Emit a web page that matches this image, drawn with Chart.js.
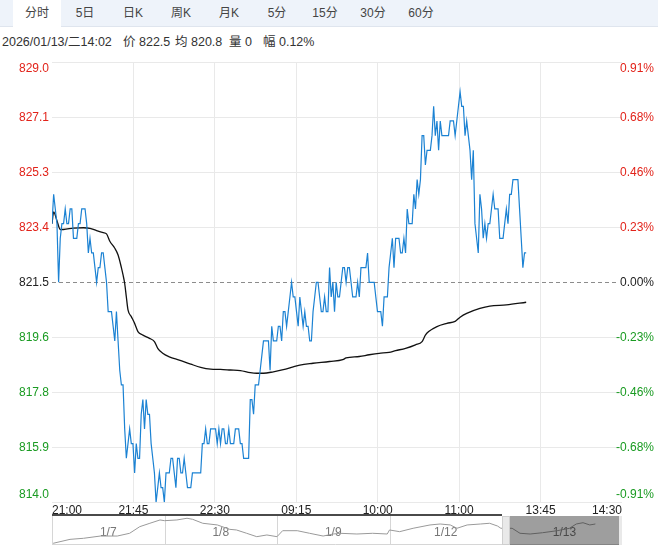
<!DOCTYPE html>
<html>
<head>
<meta charset="utf-8">
<script src="https://cdn.jsdelivr.net/npm/chart.js@4.4.1/dist/chart.umd.min.js"></script>
<style>
  body { margin: 0; width: 658px; height: 546px; background: #fff; overflow: hidden;
         font-family: Arial, "Liberation Sans", "Noto Sans CJK SC", sans-serif; color: #333; }
  #tabs { position: absolute; left: 0; top: 0; width: 658px; height: 26px; background: #eef3fa; border-bottom: 1px solid #dfe5ee; }
  .tab { position: absolute; top: 0; width: 48px; height: 26px; line-height: 26px; text-align: center; font-size: 12px; color: #444; }
  .tab.on { background: #fff; height: 27px; }
  #info span { position: absolute; top: 34px; font-size: 12.5px; line-height: 16px; white-space: nowrap; color: #333; }
  canvas { position: absolute; left: 0; }
</style>
</head>
<body>
<div id="tabs"></div>
<div id="info"></div>
<canvas id="main" width="658" height="466" style="top:50px"></canvas>
<canvas id="nav" width="658" height="32" style="top:514px"></canvas>
<script>
// ---- header ----
const tabNames = ['分时', '5日', '日K', '周K', '月K', '5分', '15分', '30分', '60分'];
const infoItems = [['2026/01/13/二14:02', 2], ['价 822.5', 123], ['均 820.8', 175], ['量 0', 229], ['幅 0.12%', 263]];

// ---- main chart: one price per minute, split by trading session ----
const BASE = 821.5;          // previous close, dashed line
const STEP = 1.875;
const TOTAL_MIN = 345;       // 21:00-23:00, 9:00-10:15, 10:30-11:30, 13:30-15:00
const xTickLabels = ['21:00', '21:45', '22:30', '09:15', '10:00', '11:00', '13:45', '14:30'];
const leftTickLabels = ['814.0', '815.9', '817.8', '819.6', '821.5', '823.4', '825.3', '827.1', '829.0'];
const rightTickLabels = ['-0.91%', '-0.68%', '-0.46%', '-0.23%', '0.00%', '0.23%', '0.46%', '0.68%', '0.91%'];

const nightPrices = [ // 21:00-22:59
  823.5, 824.5, 824.0, 823.5, 821.5, 823.0, 823.5, 823.5, 824.0, 823.5,
  823.5, 824.0, 824.0, 823.0, 823.0, 823.0, 823.5, 823.5, 824.0, 824.0,
  824.0, 823.5, 822.5, 823.0, 822.5, 822.5, 822.0, 821.5, 822.0, 822.0,
  822.5, 822.5, 822.0, 821.5, 820.5, 820.5, 820.5, 820.0, 819.5, 820.5,
  819.5, 818.5, 818.0, 818.0, 816.5, 815.5, 816.0, 816.5, 816.0, 816.0,
  815.0, 816.0, 815.5, 815.5, 817.0, 817.5, 816.5, 817.5, 817.0, 817.0,
  816.0, 815.5, 815.0, 814.0, 814.5, 815.0, 814.5, 814.5, 814.0, 815.0,
  815.0, 815.0, 815.5, 815.5, 815.0, 814.5, 815.5, 815.5, 815.0, 815.0,
  815.5, 815.0, 814.5, 814.5, 814.5, 815.0, 815.0, 815.0, 815.0, 815.0,
  815.0, 816.0, 816.0, 816.5, 816.0, 816.0, 816.5, 816.5, 816.5, 816.5,
  816.0, 816.5, 816.0, 816.5, 816.5, 816.0, 816.0, 816.5, 816.0, 816.0,
  816.0, 816.5, 816.5, 816.5, 816.0, 816.0, 815.5, 815.5, 815.5, 815.5
];
const morningPrices1 = [ // 9:00-10:14
  817.5, 817.5, 817.0, 818.0, 818.0, 818.0, 818.5, 819.0, 819.5, 819.5,
  819.5, 819.5, 818.5, 820.0, 819.5, 819.5, 819.5, 820.0,
  820.0, 819.5, 820.5, 820.5, 820.0, 820.5, 821.0, 821.5, 821.0, 821.0,
  820.5, 820.0, 821.0, 820.5, 820.0, 820.5, 820.0, 820.0, 819.5, 819.5,
  820.5, 821.0, 821.5, 821.5, 821.0, 820.5, 820.5, 821.0, 820.5, 820.5,
  822.0, 821.0, 821.5, 820.5, 821.5, 821.0, 821.0, 821.5, 822.0, 822.0,
  821.5, 822.0, 822.0, 821.5, 821.0, 821.0, 821.0, 821.5, 821.0, 822.0,
  822.0, 822.0, 822.0, 822.5, 821.5, 821.5, 821.5
];
const morningPrices2 = [ // 10:30-11:29
  821.5, 821.0, 820.5,
  820.5, 820.5, 820.0, 821.0, 821.0, 821.0, 822.0, 822.5, 823.0, 822.0,
  823.0, 823.0,
  823.0, 822.5, 822.5, 823.0, 822.5, 824.0, 823.5, 823.5, 823.5, 824.5,
  824.0, 825.0, 824.5, 825.0, 826.5, 826.5, 825.5, 826.0, 826.0, 826.0,
  826.5, 827.5, 826.5, 827.0, 826.0, 827.0, 826.5, 826.5, 826.5, 826.5,
  826.5,
  827.0, 827.0, 827.0, 826.5, 827.0, 827.5, 828.0, 827.5, 827.5, 826.5,
  827.0, 826.5, 826.0, 825.0
];
const afternoonPrices = [ // 13:30-14:02
  826.0, 823.5, 823.0, 822.5, 824.5, 824.0,
  823.0, 823.5, 823.0, 823.5, 823.5, 824.0, 824.5, 824.0, 824.0, 824.0,
  823.0, 823.0, 823.0, 823.5, 824.0, 823.5, 824.5, 824.5, 825.0, 825.0,
  825.0, 825.0, 824.0, 823.0, 822.0, 822.5, 822.5
];

// average price line (minute index, value)
const avgMinutes = [0, 1, 3, 5, 7, 13, 19, 23, 27, 31, 33, 35, 38, 40, 42, 43, 44, 45, 46, 48, 50, 52, 55, 59, 62, 64, 67, 71, 77, 84,
  90, 96, 102, 108, 114, 120, 124, 128, 134, 140, 146, 150, 158, 168, 176, 178, 186, 192, 198, 204, 208, 214, 220, 224, 226, 228,
  233, 239, 244, 247, 251, 259, 265, 275, 287];
const avgValues = [823.5, 823.9, 823.6, 823.3, 823.3, 823.35, 823.36, 823.34, 823.26, 823.19, 823.15, 822.9, 822.66, 822.43, 822.0,
  821.75, 821.46, 821.0, 820.56, 820.33, 820.1, 819.82, 819.7, 819.59, 819.48, 819.25, 819.08, 818.96, 818.85, 818.71,
  818.6, 818.54, 818.53, 818.51, 818.49, 818.42, 818.4, 818.4, 818.45, 818.52, 818.62, 818.68, 818.74, 818.8, 818.86, 818.92,
  818.97, 819.03, 819.08, 819.11, 819.17, 819.25, 819.37, 819.48, 819.7, 819.82, 819.99, 820.1, 820.17, 820.31, 820.44,
  820.61, 820.69, 820.73, 820.82];

// ---- navigator: five trading days ----
const navDays = ['1/7', '1/8', '1/9', '1/12', '1/13'];
const navTimes = [0.01, 0.16, 0.28, 0.43, 0.58, 0.69, 0.78, 0.87, 0.96, 1.0,
  1.11, 1.20, 1.25, 1.34, 1.47, 1.58, 1.64, 1.73, 1.82, 1.91, 2.0,
  2.05, 2.18, 2.29, 2.41, 2.50, 2.56, 2.71, 2.85, 2.98,
  3.0, 3.09, 3.21, 3.36, 3.45, 3.54, 3.60, 3.69, 3.81, 3.89, 3.96, 3.99,
  4.09, 4.16, 4.25, 4.36, 4.49, 4.60, 4.66, 4.72, 4.78, 4.83];
const navValues = [802.5, 807.4, 808.7, 811.5, 811.5, 814.9, 823.1, 827.3, 831.4, 830.5,
  831.4, 833.5, 832.2, 827.3, 825.2, 819.8, 819.0, 814.9, 810.7, 812.8, 810.7,
  818.1, 818.1, 814.9, 811.5, 814.0, 814.9, 814.0, 814.9, 814.0,
  819.0, 816.9, 821.1, 825.2, 826.4, 825.2, 821.1, 825.2, 826.4, 827.3, 823.9, 821.1,
  821.1, 814.9, 814.0, 815.6, 818.1, 821.1, 826.4, 828.0, 825.2, 826.4];

// header
const tabs = document.getElementById('tabs');
tabNames.forEach((n, i) => {
  const d = document.createElement('div');
  d.className = 'tab' + (i === 0 ? ' on' : '');
  d.style.left = (13 + i * 48) + 'px';
  d.textContent = n;
  tabs.appendChild(d);
});
const info = document.getElementById('info');
infoItems.forEach(([t, x]) => {
  const s = document.createElement('span');
  s.style.left = x + 'px';
  s.textContent = t;
  info.appendChild(s);
});

const FONT = '12px Arial, "Liberation Sans", sans-serif';
const RED = '#e2231a', GREEN = '#1a9b22';

const axisLabels = {
  id: 'axisLabels',
  beforeDatasetsDraw(chart) {
    const { ctx, chartArea: a, scales: { y } } = chart;
    const yy = Math.round(y.getPixelForValue(BASE)) + 0.5;
    ctx.save();
    ctx.strokeStyle = '#8c8c8c';
    ctx.lineWidth = 1;
    ctx.setLineDash([4, 3]);
    ctx.beginPath();
    ctx.moveTo(a.left, yy);
    ctx.lineTo(a.right - 4, yy);
    ctx.stroke();
    ctx.restore();
  },
  afterDraw(chart) {
    const { ctx, chartArea: a, scales: { x, y } } = chart;
    ctx.save();
    ctx.font = FONT;
    ctx.textBaseline = 'middle';
    y.ticks.forEach((t, i) => {
      let py = y.getPixelForValue(t.value);
      if (i === y.ticks.length - 1) py += 6;
      else if (i === 0) py -= 8;
      const diff = t.value - BASE;
      ctx.fillStyle = Math.abs(diff) < 0.01 ? '#222' : (diff > 0 ? RED : GREEN);
      ctx.textAlign = 'right';
      ctx.fillText(leftTickLabels[i], 49, py);
      ctx.fillText(rightTickLabels[i], 654, py);
    });
    ctx.fillStyle = '#222';
    x.ticks.forEach((t, i) => {
      ctx.textAlign = i === 0 ? 'left' : (i === x.ticks.length - 1 ? 'right' : 'center');
      ctx.fillText(xTickLabels[i], x.getPixelForValue(t.value), a.bottom + 8);
    });
    ctx.restore();
  }
};

const prices = [...nightPrices, ...morningPrices1, ...morningPrices2, ...afternoonPrices];

new Chart(document.getElementById('main'), {
  type: 'line',
  data: {
    datasets: [{
      data: prices.map((p, i) => ({ x: i, y: p })),
      borderColor: '#1b82d3',
      borderWidth: 1.2,
      pointRadius: 0,
      tension: 0,
    }, {
      data: avgMinutes.map((m, i) => ({ x: m, y: avgValues[i] })),
      borderColor: '#111',
      borderWidth: 1.3,
      pointRadius: 0,
      cubicInterpolationMode: 'monotone',
    }]
  },
  options: {
    responsive: false,
    animation: false,
    events: [],
    layout: { padding: { left: 52, right: 36, top: 12.3, bottom: 13.7 } },
    plugins: { legend: { display: false }, tooltip: { enabled: false } },
    scales: {
      x: {
        type: 'linear', min: 0, max: TOTAL_MIN,
        afterBuildTicks: s => { s.ticks = xTickLabels.map((_, i) => ({ value: i * TOTAL_MIN / 7 })); },
        afterFit: s => { s.height = 0; },
        ticks: { display: false },
        border: { display: false },
        grid: { drawTicks: false, color: c => (c.index === 0 || c.index === 7) ? 'rgba(0,0,0,0)' : '#e9e9e9' }
      },
      y: {
        min: 814, max: 829,
        afterBuildTicks: s => { s.ticks = leftTickLabels.map((_, i) => ({ value: 814 + i * STEP })); },
        afterFit: s => { s.width = 0; },
        ticks: { display: false },
        border: { display: false },
        grid: { drawTicks: false, color: c => (c.tick && Math.abs(c.tick.value - BASE) < 0.01) ? 'rgba(0,0,0,0)' : '#e9e9e9' }
      }
    }
  },
  plugins: [axisLabels]
});

const navDecor = {
  id: 'navDecor',
  beforeDatasetsDraw(chart) {
    const { ctx, chartArea: a, scales: { x } } = chart;
    ctx.save();
    ctx.strokeStyle = '#d6d6d6';
    ctx.lineWidth = 1;
    ctx.beginPath();
    ctx.moveTo(a.left + 0.5, a.top); ctx.lineTo(a.left + 0.5, a.bottom);
    ctx.moveTo(a.left, a.bottom - 0.5); ctx.lineTo(a.right, a.bottom - 0.5);
    for (let i = 1; i < 4; i++) {
      const px = Math.round(x.getPixelForValue(i)) + 0.5;
      ctx.moveTo(px, a.top); ctx.lineTo(px, a.bottom);
    }
    ctx.stroke();
    ctx.font = FONT;
    ctx.fillStyle = '#777';
    ctx.textAlign = 'center';
    ctx.textBaseline = 'middle';
    navDays.forEach((d, i) => {
      const cx = i < 4 ? x.getPixelForValue(i + 0.5) : (x.getPixelForValue(4) + 8 + a.right) / 2;
      ctx.fillText(d, cx, a.top + 17);
    });
    ctx.restore();
  },
  afterDatasetsDraw(chart) {
    const { ctx, chartArea: a, scales: { x } } = chart;
    const h = x.getPixelForValue(4);
    ctx.save();
    ctx.fillStyle = '#4a4a4a';
    ctx.fillRect(a.left, 0, h - a.left, 2);
    ctx.fillStyle = 'rgba(0,0,0,0.38)';
    ctx.fillRect(h + 8, a.top, a.right - h - 8, a.bottom - a.top);
    ctx.fillStyle = '#e9e9e9';
    ctx.strokeStyle = '#cfcfcf';
    ctx.fillRect(h, a.top, 8, a.bottom - a.top);
    ctx.strokeRect(h + 0.5, a.top + 0.5, 7, a.bottom - a.top - 1);
    ctx.fillRect(a.right, a.top, 3, a.bottom - a.top);
    ctx.restore();
  }
};

new Chart(document.getElementById('nav'), {
  type: 'line',
  data: {
    datasets: [{
      data: navTimes.map((t, i) => ({ x: t, y: navValues[i] })),
      borderColor: '#9a9a9a',
      borderWidth: 1,
      pointRadius: 0,
      tension: 0,
    }]
  },
  options: {
    responsive: false,
    animation: false,
    events: [],
    layout: { padding: { left: 52, right: 39, top: 2, bottom: 1 } },
    plugins: { legend: { display: false }, tooltip: { enabled: false } },
    scales: {
      x: { type: 'linear', min: 0, max: 5.04, display: false },
      y: { min: 800.4, max: 836.3, display: false }
    }
  },
  plugins: [navDecor]
});
</script>
</body>
</html>
